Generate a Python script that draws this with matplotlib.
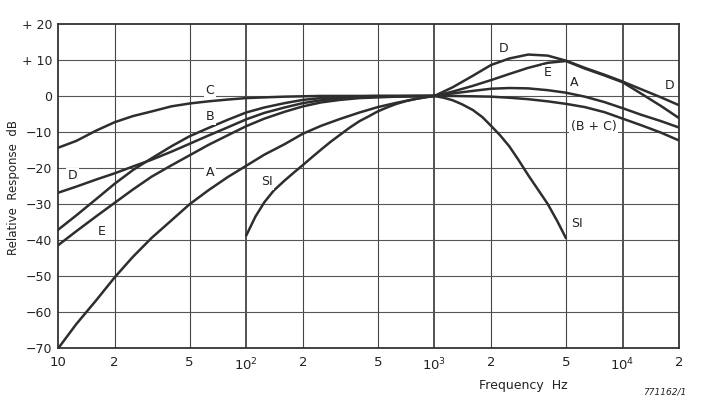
import matplotlib
matplotlib.use('Agg')
import matplotlib.pyplot as plt

# 1/3 octave frequencies, Hz
freq = [10, 12.5, 16, 20, 25, 31.5, 40, 50, 63, 80, 100, 125, 160, 200,
        250, 315, 400, 500, 630, 800, 1000, 1250, 1600, 2000, 2500, 3150,
        4000, 5000, 6300, 8000, 10000, 12500, 16000, 20000]

# curves (dB)
curve_a = [-70.2, -63.4, -56.7, -50.4, -44.7, -39.4, -34.6, -30.1, -26.2,
           -22.5, -19.4, -16.3, -13.4, -10.5, -8.3, -6.4, -4.6, -3.1, -1.9,
           -0.8, 0.0, 0.7, 1.4, 2.0, 2.2, 2.1, 1.6, 0.9, -0.2, -1.7, -3.4,
           -5.2, -7.0, -8.8]
curve_d = [-26.9, -25.2, -23.2, -21.5, -19.6, -17.7, -15.5, -13.3, -11.0,
           -8.7, -6.5, -4.7, -3.2, -2.0, -1.2, -0.7, -0.4, -0.2, -0.1, 0.0,
           0.0, 2.4, 5.6, 8.6, 10.4, 11.5, 11.2, 9.8, 7.8, 5.9, 4.0, 1.9,
           -0.4, -2.6]
curve_e = [-41.5, -37.6, -33.4, -29.7, -26.0, -22.4, -19.3, -16.5, -13.6,
           -10.9, -8.4, -6.3, -4.4, -2.9, -1.8, -1.1, -0.6, -0.4, -0.2, -0.1,
           0.0, 1.2, 2.8, 4.4, 6.1, 7.8, 9.2, 9.7, 7.6, 5.7, 3.8, 0.7, -2.8,
           -6.2]

# B and C below 1 kHz, joint (B + C) curve above
freq_low = freq[:21]
curve_b = [-37.2, -33.2, -28.6, -24.4, -20.6, -17.3, -14.0, -11.2, -8.9,
           -6.6, -4.6, -3.2, -2.0, -1.1, -0.6, -0.3, -0.1, 0.0, 0.0, 0.0, 0.0]
curve_c = [-14.4, -12.5, -9.6, -7.3, -5.6, -4.3, -2.9, -2.1, -1.5, -1.0,
           -0.6, -0.4, -0.2, -0.1, 0.0, 0.0, 0.0, 0.0, 0.0, 0.0, 0.0]
freq_high = freq[20:]
curve_bc = [0.0, 0.0, -0.1, -0.2, -0.5, -0.9, -1.5, -2.2, -3.1, -4.5, -6.3,
            -8.1, -10.2, -12.4]

# SI curve, read at 1/6 octave steps
freq_si = [100, 112, 125, 140, 160, 180, 200, 224, 250, 280, 315, 355, 400,
           450, 500, 560, 630, 710, 800, 900, 1000, 1120, 1250, 1400, 1600,
           1800, 2000, 2240, 2500, 2800, 3150, 3550, 4000, 4500, 5000]
curve_si = [-38.8, -33.5, -29.5, -26.3, -23.5, -21.2, -19.2, -17.0, -14.9,
            -12.8, -10.8, -8.8, -7.0, -5.6, -4.3, -3.2, -2.2, -1.4, -0.8,
            -0.3, 0.0, -0.5, -1.2, -2.3, -3.9, -5.9, -8.3, -11.0, -14.0,
            -17.8, -22.0, -26.0, -30.0, -34.8, -39.5]

# curve labels: (text, freq, dB)
labels = [('C', 64, 1.6), ('B', 64, -5.8), ('A', 64, -21.2), ('D', 12, -22.2),
          ('SI', 129, -23.9), ('E', 17, -37.7), ('D', 2320, 13.2),
          ('E', 4000, 6.4), ('A', 5560, 3.7), ('D', 17800, 3.0),
          ('(B + C)', 7030, -8.4), ('SI', 5740, -35.5)]

x_ticks = [10, 20, 50, 100, 200, 500, 1000, 2000, 5000, 10000, 20000]
x_ticklabels = ['10', '2', '5', '10$^2$', '2', '5', '10$^3$', '2', '5',
                '10$^4$', '2']
y_ticks = [20, 10, 0, -10, -20, -30, -40, -50, -60, -70]
y_ticklabels = ['+ 20', '+ 10', '0', '\u221210', '\u221220', '\u221230',
                '\u221240', '\u221250', '\u221260', '\u221270']

plt.rcParams['font.family'] = ['DejaVu Sans']
ink = '#2e2e2e'

fig = plt.figure(figsize=(7.02, 3.99), dpi=100)
ax = fig.add_axes([0.0826, 0.128, 0.885, 0.812])
ax.set_xscale('log')
ax.set_xlim(10, 20000)
ax.set_ylim(-70, 20)

for f in x_ticks[1:-1]:
    lw = 1.3 if f in (100, 1000, 10000) else 0.8
    ax.axvline(f, color='#444444', lw=lw, zorder=1)
for v in y_ticks[1:-1]:
    ax.axhline(v, color='#555555', lw=0.8, zorder=1)

for fx, vals in [(freq, curve_a), (freq, curve_d), (freq, curve_e),
                 (freq_low, curve_b), (freq_low, curve_c),
                 (freq_high, curve_bc), (freq_si, curve_si)]:
    ax.plot(fx, vals, color=ink, lw=1.8, zorder=3, solid_capstyle='round')

for txt, fx, v in labels:
    ax.text(fx, v, txt, fontsize=9, color='#222222', ha='center',
            va='center', zorder=4,
            bbox=dict(facecolor='white', edgecolor='none', pad=1.2))

ax.set_xticks(x_ticks)
ax.set_xticklabels(x_ticklabels, fontsize=9.5)
ax.minorticks_off()
ax.set_yticks(y_ticks)
ax.set_yticklabels(y_ticklabels, fontsize=9)
ax.tick_params(axis='x', length=0, pad=6, colors='#222222')
ax.tick_params(axis='y', length=0, pad=4, colors='#222222')
for s in ax.spines.values():
    s.set_color('#333333')
    s.set_linewidth(1.3)

fig.text(0.019, 0.53, 'Relative  Response  dB', fontsize=8.5,
         color='#222222', rotation=90, ha='center', va='center')
fig.text(0.745, 0.035, 'Frequency  Hz', fontsize=9, color='#222222',
         ha='center', va='center')
fig.text(0.947, 0.018, '771162/1', fontsize=6.5, style='italic',
         color='#222222', ha='center', va='center')

fig.savefig('out.png', dpi=100)
